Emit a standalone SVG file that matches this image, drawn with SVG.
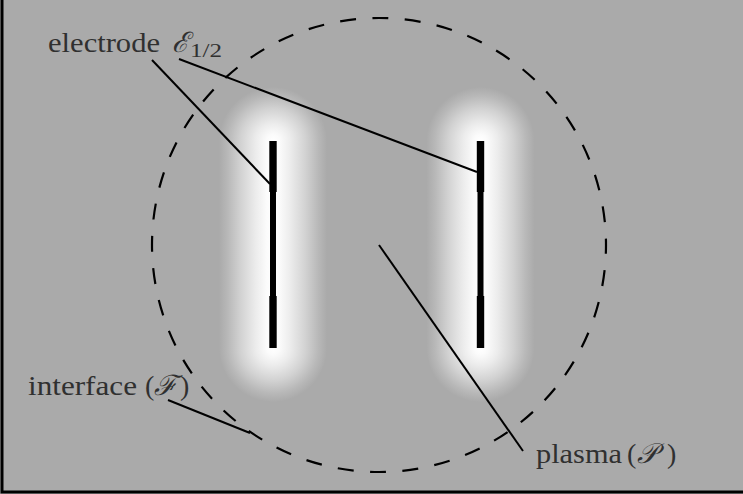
<svg xmlns="http://www.w3.org/2000/svg" width="743" height="494" viewBox="0 0 743 494">
  <defs>
    <linearGradient id="glowH" x1="0" y1="0" x2="1" y2="0">
      <stop offset="0" stop-color="#aaaaaa"/>
      <stop offset="0.08" stop-color="#b8b8b8"/>
      <stop offset="0.2" stop-color="#d2d2d2"/>
      <stop offset="0.34" stop-color="#ececec"/>
      <stop offset="0.44" stop-color="#fbfbfb"/>
      <stop offset="0.5" stop-color="#ffffff"/>
      <stop offset="0.56" stop-color="#fbfbfb"/>
      <stop offset="0.66" stop-color="#ececec"/>
      <stop offset="0.8" stop-color="#d2d2d2"/>
      <stop offset="0.92" stop-color="#b8b8b8"/>
      <stop offset="1" stop-color="#aaaaaa"/>
    </linearGradient>
    <radialGradient id="glowR" cx="0.5" cy="0.5" r="0.5">
      <stop offset="0" stop-color="#ffffff"/>
      <stop offset="0.12" stop-color="#fbfbfb"/>
      <stop offset="0.32" stop-color="#ececec"/>
      <stop offset="0.6" stop-color="#d2d2d2"/>
      <stop offset="0.84" stop-color="#b8b8b8"/>
      <stop offset="1" stop-color="#aaaaaa"/>
    </radialGradient>
  </defs>
  <style>
    .lbl { font-family: "Liberation Serif", "Times New Roman", serif; font-size: 28px; fill: #303030; }
    .scr { font-family: "Liberation Serif", "DejaVu Serif", serif; font-size: 28px; fill: #303030; font-style: italic; }
    .sub { font-family: "Liberation Serif", "Times New Roman", serif; font-size: 19px; fill: #303030; }
    .lead { stroke: #000; stroke-width: 2; fill: none; }
    .elec { fill: #000; }
    .glowcap { fill: url(#glowR); }
    .glowbody { fill: url(#glowH); }
  </style>

  <rect x="0" y="0" width="743" height="494" fill="#aaaaaa"/>
  <rect x="2" y="-10" width="760" height="502" fill="none" stroke="#000" stroke-width="3"/>

  <g id="electrode-1">
    <circle class="glowcap" cx="273" cy="141" r="54"/>
    <circle class="glowcap" cx="273" cy="348" r="54"/>
    <rect class="glowbody" x="219" y="141" width="108" height="207"/>
    <rect class="elec" x="269.3" y="141" width="7.4" height="51"/>
    <rect class="elec" x="270" y="191" width="6" height="106"/>
    <rect class="elec" x="269.3" y="296" width="7.4" height="52"/>
  </g>

  <g id="electrode-2">
    <circle class="glowcap" cx="480.5" cy="141" r="54"/>
    <circle class="glowcap" cx="480.5" cy="348" r="54"/>
    <rect class="glowbody" x="426.5" y="141" width="108" height="207"/>
    <rect class="elec" x="476.8" y="141" width="7.4" height="51"/>
    <rect class="elec" x="477.5" y="191" width="6" height="106"/>
    <rect class="elec" x="476.8" y="296" width="7.4" height="52"/>
  </g>

  <g id="interface">
    <circle cx="379" cy="245" r="227" fill="none" stroke="#000" stroke-width="2.2" stroke-dasharray="16 16.42" stroke-dashoffset="7.2"/>
  </g>

  <g id="connectors">
    <line class="lead" x1="152" y1="60" x2="270" y2="184"/>
    <line class="lead" x1="179" y1="59" x2="477" y2="172"/>
    <line class="lead" x1="168" y1="400" x2="250" y2="433"/>
    <line class="lead" x1="379" y1="245" x2="523" y2="451"/>
  </g>

  <g id="label-electrode">
    <text class="lbl" x="48" y="52" font-family="Liberation Serif, serif" textLength="112" lengthAdjust="spacingAndGlyphs">electrode</text>
    <text class="scr" x="172" y="52">ℰ</text>
    <text class="sub" x="190" y="57" textLength="32" lengthAdjust="spacingAndGlyphs">1/2</text>
  </g>

  <g id="label-interface">
    <text class="lbl" x="28" y="395" textLength="109" lengthAdjust="spacingAndGlyphs">interface</text>
    <text class="lbl" x="145" y="395">(</text>
    <text class="scr" x="154" y="395">ℱ</text>
    <text class="lbl" x="180" y="395">)</text>
  </g>

  <g id="label-plasma">
    <text class="lbl" x="536" y="463" textLength="86" lengthAdjust="spacingAndGlyphs">plasma</text>
    <text class="lbl" x="627" y="463">(</text>
    <text class="scr" x="637" y="463">𝒫</text>
    <text class="lbl" x="667" y="463">)</text>
  </g>
</svg>
